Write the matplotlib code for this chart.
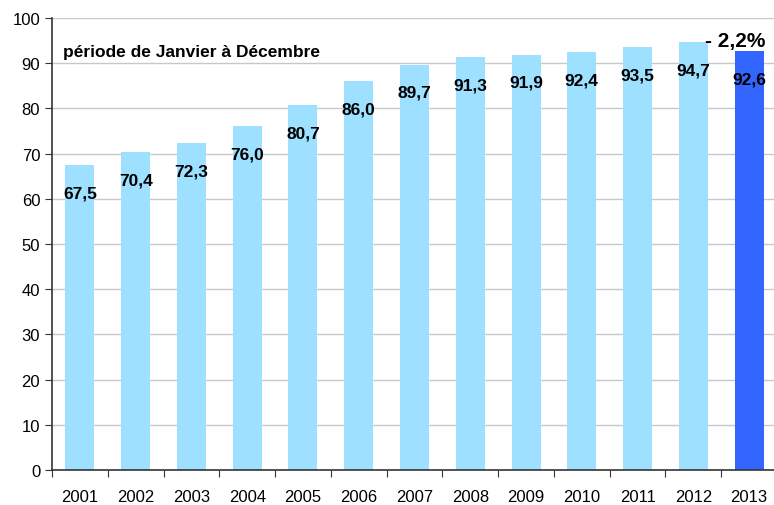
import matplotlib.pyplot as plt
import numpy as np

annees = ['2001', '2002', '2003', '2004', '2005', '2006', '2007',
          '2008', '2009', '2010', '2011', '2012', '2013']
valeurs = [67.5, 70.4, 72.3, 76.0, 80.7, 86.0, 89.7,
           91.3, 91.9, 92.4, 93.5, 94.7, 92.6]
etiquettes = ['67,5', '70,4', '72,3', '76,0', '80,7', '86,0', '89,7',
              '91,3', '91,9', '92,4', '93,5', '94,7', '92,6']

plt.rcParams['font.family'] = ['Liberation Sans', 'DejaVu Sans']

figure = plt.figure(figsize=(7.74, 5.06), dpi=100)
# la zone de trace depasse legerement a droite, comme l'original
eje = figure.add_axes([52 / 774, 35 / 506, 725 / 774, 452 / 506])

x = np.arange(len(annees))
couleurs = ['#9EE0FF'] * (len(annees) - 1) + ['#3366FF']
eje.bar(x, valeurs, width=0.52, color=couleurs, zorder=2)

for xi, v, txt in zip(x, valeurs, etiquettes):
    eje.annotate(txt, (xi, v), xytext=(0, -20), textcoords='offset points',
                 ha='center', va='center', fontsize=12.5, fontweight='bold',
                 zorder=3)

eje.annotate('- 2,2%', (x[-1], valeurs[-1]), xytext=(-10, 8),
             textcoords='offset points', ha='center', va='center',
             fontsize=15, fontweight='bold')
eje.text(0.015, 0.925, 'période de Janvier à Décembre', transform=eje.transAxes,
         ha='left', va='center', fontsize=12.5, fontweight='bold')

eje.set_xlim(-0.5, len(annees) - 0.5)
eje.set_ylim(0, 100)
eje.set_yticks(np.arange(0, 101, 10))
eje.set_xticks(np.arange(-0.5, len(annees), 1))
eje.set_xticklabels([])
eje.set_xticks(x, minor=True)
eje.set_xticklabels(annees, minor=True)
eje.tick_params(axis='x', which='minor', length=0, pad=14, labelsize=12)
eje.tick_params(axis='x', which='major', length=5, direction='out', color='#333333')
eje.tick_params(axis='y', length=5, direction='out', labelsize=12, color='#333333')

eje.grid(axis='y', color='#C8C8C8', linewidth=1, zorder=0)
eje.set_axisbelow(True)
for cote in ['top', 'right']:
    eje.spines[cote].set_visible(False)
for cote in ['left', 'bottom']:
    eje.spines[cote].set_color('#333333')
    eje.spines[cote].set_linewidth(1.2)

figure.savefig('out.png', dpi=100)
